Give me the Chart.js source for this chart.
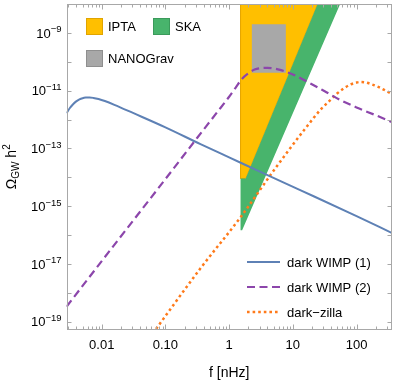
<!DOCTYPE html>
<html>
<head>
<meta charset="utf-8">
<script src="https://cdn.jsdelivr.net/npm/chart.js@4"></script>
<style>
  html, body { margin: 0; padding: 0; background: #fff; }
  canvas { display: block; }
</style>
</head>
<body>
<canvas id="gwChart" width="396" height="382"></canvas>
<script>
// dark WIMP (1)
let wimp1Freq = [0.0028, 0.00316, 0.00355, 0.00398, 0.00447, 0.00501, 0.00562, 0.00646, 0.00741, 0.00891, 0.0112, 0.0158, 0.0316, 0.1, 0.355, 1, 3.16, 13.3, 100, 363];
let wimp1Omega = [1.66e-12, 2.51e-12, 3.39e-12, 4.27e-12, 5.01e-12, 5.50e-12, 5.75e-12, 5.82e-12, 5.62e-12, 5.13e-12, 4.37e-12, 3.24e-12, 1.66e-12, 5.37e-13, 1.41e-13, 4.90e-14, 1.51e-14, 3.55e-15, 4.57e-16, 1.17e-16];

// dark WIMP (2)
let wimp2Freq = [0.0028, 0.01, 0.0316, 0.1, 0.316, 0.631, 1, 1.26, 1.58, 2.0, 2.51, 3.16, 3.98, 5.01, 6.31, 7.94, 10, 18.9, 31.6, 56.2, 100, 200, 363];
let wimp2Omega = [3.31e-19, 1.26e-17, 3.31e-16, 8.71e-15, 2.34e-13, 1.66e-12, 6.17e-12, 1.26e-11, 2.51e-11, 3.98e-11, 5.37e-11, 6.03e-11, 6.17e-11, 5.89e-11, 5.25e-11, 4.47e-11, 3.63e-11, 1.78e-11, 9.55e-12, 4.68e-12, 2.63e-12, 1.41e-12, 8.13e-13];

// dark-zilla
let zillaFreq = [0.0562, 0.355, 1.49, 5.30, 15.8, 28.2, 39.8, 50.1, 63.1, 79.4, 100, 115, 141, 178, 224, 282, 363];
let zillaOmega = [2.75e-20, 7.08e-18, 3.98e-16, 2.04e-14, 5.01e-13, 2.40e-12, 5.01e-12, 8.13e-12, 1.20e-11, 1.62e-11, 1.91e-11, 2.00e-11, 1.91e-11, 1.62e-11, 1.32e-11, 1.02e-11, 7.59e-12];

// sensitivity regions (polygon corners)
let iptaFreq = [1.51, 1.82, 24.5, 1.51, 1.51];
let iptaOmega = [9.12e-15, 9.12e-15, 1e-8, 1e-8, 9.12e-15];
let skaFreq = [1.51, 1.51, 1.82, 24.5, 55.3, 1.60, 1.51];
let skaOmega = [1.48e-16, 9.12e-15, 9.12e-15, 1e-8, 1e-8, 1.48e-16, 1.48e-16];
let nanogravFreq = [2.27, 7.76, 7.76, 2.27, 2.27];
let nanogravOmega = [2.0e-9, 2.0e-9, 4.17e-11, 4.17e-11, 2.0e-9];

// axes
let xLabelTicks = [0.01, 0.1, 1, 10, 100];
let xTickLabels = ['0.01', '0.10', '1', '10', '100'];
let yTickValues = [1e-9, 1e-10, 1e-11, 1e-12, 1e-13, 1e-14, 1e-15, 1e-16, 1e-17, 1e-18, 1e-19];
let yLabelValues = [1e-9, 1e-11, 1e-13, 1e-15, 1e-17, 1e-19];
let yLabelExps = ['\u22129', '\u221211', '\u221213', '\u221215', '\u221217', '\u221219'];

const FONT = '"Liberation Sans", Arial, sans-serif';

function toPoints(xs, ys) {
    return xs.map((v, i) => ({ x: v, y: ys[i] }));
}

function curve(label, xs, ys, color, width, dash, order) {
    return {
        label: label,
        data: toPoints(xs, ys),
        showLine: true,
        borderColor: color,
        borderWidth: width,
        borderDash: dash,
        pointRadius: 0,
        cubicInterpolationMode: 'monotone',
        fill: false,
        order: order
    };
}

function region(label, xs, ys, color, edge, order) {
    return {
        label: label,
        data: toPoints(xs, ys),
        showLine: true,
        borderColor: edge,
        borderWidth: edge ? 1 : 0,
        backgroundColor: color,
        pointRadius: 0,
        tension: 0,
        fill: 'shape',
        order: order
    };
}

const frameAndLabels = {
    id: 'frameAndLabels',
    afterDatasetsDraw(chart) {
        const { ctx, chartArea: a, scales: { x, y } } = chart;
        const L = Math.round(a.left) + 0.5, R = Math.round(a.right) - 0.5;
        const T = Math.round(a.top) + 0.5, B = Math.round(a.bottom) - 0.5;
        ctx.save();

        // frame + inward ticks
        ctx.strokeStyle = '#a8a8a8';
        ctx.lineWidth = 1;
        ctx.strokeRect(L, T, R - L, B - T);
        ctx.beginPath();
        for (let d = -3; d <= 2; d++) {
            for (let k = 1; k <= 9; k++) {
                const v = k * Math.pow(10, d);
                if (v < x.min || v > x.max) continue;
                const px = Math.round(x.getPixelForValue(v)) + 0.5;
                const len = k === 1 ? 5 : 3;
                ctx.moveTo(px, B); ctx.lineTo(px, B - len);
                ctx.moveTo(px, T); ctx.lineTo(px, T + len);
            }
        }
        yTickValues.forEach(v => {
            const py = Math.round(y.getPixelForValue(v)) + 0.5;
            ctx.moveTo(L, py); ctx.lineTo(L + 4, py);
            ctx.moveTo(R, py); ctx.lineTo(R - 4, py);
        });
        ctx.stroke();

        // y tick labels with superscript exponents
        ctx.fillStyle = '#000';
        ctx.textAlign = 'right';
        ctx.textBaseline = 'alphabetic';
        const right = a.left - 5;
        yLabelValues.forEach((v, i) => {
            const py = y.getPixelForValue(v);
            ctx.font = '9.5px ' + FONT;
            const ew = ctx.measureText(yLabelExps[i]).width;
            ctx.fillText(yLabelExps[i], right, py - 0.5);
            ctx.font = '13px ' + FONT;
            ctx.fillText('10', right - ew, py + 4.7);
        });

        // x axis title
        ctx.textAlign = 'center';
        ctx.font = '14px ' + FONT;
        ctx.fillText('f [nHz]', (a.left + a.right) / 2, 377);

        // y axis title: Omega_GW h^2
        ctx.save();
        ctx.translate(16, (a.top + a.bottom) / 2);
        ctx.rotate(-Math.PI / 2);
        ctx.textAlign = 'left';
        const parts = [
            { t: '\u03A9', size: 14, dy: 0 },
            { t: 'GW', size: 10, dy: 3 },
            { t: ' h', size: 14, dy: 0 },
            { t: '2', size: 10, dy: -6 }
        ];
        let total = 0;
        parts.forEach(p => { ctx.font = p.size + 'px ' + FONT; p.w = ctx.measureText(p.t).width; total += p.w; });
        let cx = -total / 2;
        parts.forEach(p => {
            ctx.font = p.size + 'px ' + FONT;
            ctx.fillText(p.t, cx, p.dy);
            cx += p.w;
        });
        ctx.restore();

        // region legend (top left)
        const boxes = [
            { label: 'IPTA', x: 86, y: 18, fill: '#ffbf00', edge: '#e0a400' },
            { label: 'SKA', x: 153, y: 18, fill: '#48b46c', edge: '#3b9a5b' },
            { label: 'NANOGrav', x: 86, y: 50, fill: '#a8a8a8', edge: '#8f8f8f' }
        ];
        ctx.textAlign = 'left';
        ctx.font = '13px ' + FONT;
        boxes.forEach(b => {
            ctx.fillStyle = b.fill;
            ctx.fillRect(b.x, b.y, 17, 17);
            ctx.strokeStyle = b.edge;
            ctx.strokeRect(b.x + 0.5, b.y + 0.5, 16, 16);
            ctx.fillStyle = '#000';
            ctx.fillText(b.label, b.x + 22, b.y + 8.5 + 4.7);
        });

        // curve legend (bottom right)
        const rows = [
            { label: 'dark WIMP (1)', y: 262, color: '#5e81b5', width: 2, dash: [] },
            { label: 'dark WIMP (2)', y: 287, color: '#8c46ab', width: 2.2, dash: [8, 4.5] },
            { label: 'dark\u2212zilla', y: 312, color: '#ff7a1a', width: 2.5, dash: [2.6, 3] }
        ];
        rows.forEach(r => {
            ctx.beginPath();
            ctx.strokeStyle = r.color;
            ctx.lineWidth = r.width;
            ctx.setLineDash(r.dash);
            ctx.moveTo(247, r.y);
            ctx.lineTo(280, r.y);
            ctx.stroke();
            ctx.setLineDash([]);
            ctx.fillStyle = '#000';
            ctx.fillText(r.label, 287, r.y + 4.7);
        });

        ctx.restore();
    }
};

function createChart(ctx) {
    return new Chart(ctx, {
        type: 'scatter',
        data: {
            datasets: [
                curve('dark WIMP (1)', wimp1Freq, wimp1Omega, '#5e81b5', 2, [], 1),
                curve('dark WIMP (2)', wimp2Freq, wimp2Omega, '#8c46ab', 2.2, [8, 4.5], 2),
                curve('dark-zilla', zillaFreq, zillaOmega, '#ff7a1a', 2.5, [2.6, 3], 3),
                region('NANOGrav', nanogravFreq, nanogravOmega, '#a8a8a8', null, 4),
                region('SKA', skaFreq, skaOmega, '#48b46c', null, 5),
                region('IPTA', iptaFreq, iptaOmega, '#ffbf00', '#e6a800', 6)
            ]
        },
        options: {
            responsive: false,
            animation: false,
            layout: { padding: { left: 0, right: 4, top: 4, bottom: 0 } },
            plugins: {
                legend: { display: false },
                tooltip: { enabled: false }
            },
            scales: {
                x: {
                    type: 'logarithmic',
                    min: 0.0028,
                    max: 360,
                    grid: { display: false, drawTicks: false },
                    border: { display: false },
                    afterBuildTicks: s => { s.ticks = xLabelTicks.map(v => ({ value: v })); },
                    afterFit: s => { s.height = 52.5; },
                    ticks: {
                        autoSkip: false,
                        maxRotation: 0,
                        padding: 8,
                        color: '#000',
                        font: { family: FONT, size: 13 },
                        callback: (value, index) => xTickLabels[index]
                    }
                },
                y: {
                    type: 'logarithmic',
                    min: 5.4e-20,
                    max: 1e-8,
                    grid: { display: false, drawTicks: false },
                    border: { display: false },
                    ticks: { display: false },
                    afterFit: s => { s.width = 66.5; }
                }
            }
        },
        plugins: [frameAndLabels]
    });
}

document.addEventListener('DOMContentLoaded', () => {
    const ctx = document.getElementById('gwChart').getContext('2d');
    createChart(ctx);
});
</script>
</body>
</html>
